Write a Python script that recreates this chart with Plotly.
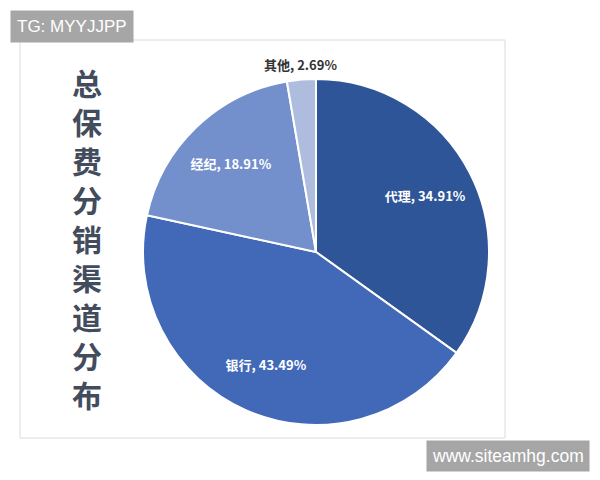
import plotly.graph_objects as go

# share of total premium by distribution channel
channels = ["代理", "银行", "经纪", "其他"]
shares = [34.91, 43.49, 18.91, 2.69]
slice_colors = ["#2E5597", "#4169B8", "#7390CC", "#AEBCDE"]

title_text = "总保费分销渠道分布"

W, H = 592, 472  # page has an 8px body margin, so keep the figure inside the window


def px_x(x):
    return (x - 8) / W


def px_y(y):
    return 1 - (y - 8) / H


pie_domain = dict(x=[px_x(142), px_x(490)], y=[px_y(425), px_y(79)])
labels_txt = [f"{c}, {s:.2f}%" for c, s in zip(channels, shares)]

fig = go.Figure()

# coloured slices
fig.add_trace(go.Pie(
    labels=channels, values=shares, sort=False, direction="clockwise", rotation=0,
    marker=dict(colors=slice_colors, line=dict(color="white", width=2)),
    textinfo="none", showlegend=False, hoverinfo="skip", domain=pie_domain,
))

# transparent ring on top that carries the labels further out in each slice
fig.add_trace(go.Pie(
    labels=channels, values=shares, sort=False, direction="clockwise", rotation=0,
    hole=0.42,
    marker=dict(colors=["rgba(0,0,0,0)"] * 4, line=dict(width=0)),
    text=labels_txt[:3] + [""], textinfo="text", textposition="inside",
    insidetextorientation="horizontal",
    textfont=dict(family="Noto Sans CJK SC", size=13, color="white", weight="bold"),
    showlegend=False, hoverinfo="skip", domain=pie_domain,
))

# small slice label sits above the pie
fig.add_annotation(text=labels_txt[3], xref="paper", yref="paper",
                   x=px_x(300), y=px_y(64), xanchor="center", yanchor="middle",
                   showarrow=False,
                   font=dict(family="Noto Sans CJK SC", size=13, color="#333333", weight="bold"))

# light frame around the chart
fig.add_shape(type="rect", xref="paper", yref="paper",
              x0=px_x(20), x1=px_x(505), y0=px_y(438), y1=px_y(40),
              line=dict(color="#DADADA", width=1), fillcolor="rgba(0,0,0,0)")

# vertical title
fig.add_annotation(text="<br>".join(title_text), xref="paper", yref="paper",
                   x=px_x(87), y=px_y(238), xanchor="center", yanchor="middle",
                   showarrow=False,
                   font=dict(family="Noto Sans CJK SC", size=30, color="#434C5C", weight="bold"),
                   align="center")

# watermarks
fig.add_annotation(text="TG: MYYJJPP", xref="paper", yref="paper",
                   x=px_x(10), y=px_y(10), xanchor="left", yanchor="top",
                   showarrow=False, bgcolor="#A6A6A6", borderpad=6,
                   font=dict(family="Liberation Sans", size=17, color="white"))
fig.add_annotation(text="www.siteamhg.com", xref="paper", yref="paper",
                   x=px_x(590), y=px_y(440), xanchor="right", yanchor="top",
                   showarrow=False, bgcolor="#A6A6A6", borderpad=5,
                   font=dict(family="Liberation Sans", size=17.5, color="white"))

fig.update_layout(width=W, height=H, margin=dict(l=0, r=0, t=0, b=0),
                  paper_bgcolor="white", plot_bgcolor="white")

fig.write_html("out.html")
